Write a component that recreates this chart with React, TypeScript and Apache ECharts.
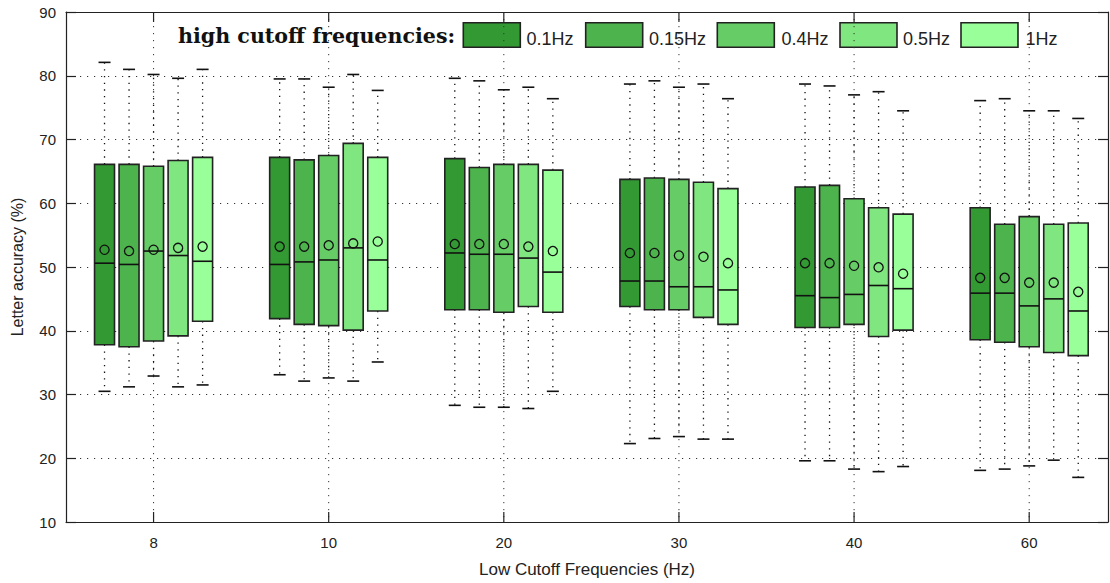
import React, { useEffect, useRef } from "react";
import * as echarts from "echarts";

// Low cutoff frequencies (x categories)
const lowCutoffs = ["8", "10", "20", "30", "40", "60"];
// High cutoff frequencies (series)
const highCutoffs = ["0.1Hz", "0.15Hz", "0.4Hz", "0.5Hz", "1Hz"];
const seriesColors = ["#339933", "#4db34d", "#66cc66", "#80e680", "#99ff99"];

// Per series: rows are low cutoffs, columns: [whiskerLow, q1, median, q3, whiskerHigh, mean]
const hc01 = [
  [30.5, 37.8, 50.6, 66.1, 82.1, 52.7],
  [33.1, 41.9, 50.4, 67.2, 79.5, 53.2],
  [28.3, 43.3, 52.2, 67.0, 79.6, 53.6],
  [22.3, 43.8, 47.8, 63.75, 78.7, 52.2],
  [19.6, 40.5, 45.5, 62.55, 78.7, 50.6],
  [18.1, 38.6, 45.9, 59.3, 76.1, 48.3],
];
const hc015 = [
  [31.2, 37.5, 50.4, 66.1, 81.0, 52.5],
  [32.1, 41.0, 50.8, 66.8, 79.5, 53.2],
  [28.0, 43.3, 52.0, 65.6, 79.2, 53.6],
  [23.1, 43.3, 47.8, 63.95, 79.2, 52.2],
  [19.6, 40.5, 45.2, 62.8, 78.4, 50.6],
  [18.3, 38.2, 45.9, 56.7, 76.4, 48.3],
];
const hc04 = [
  [32.9, 38.4, 52.5, 65.8, 80.2, 52.7],
  [32.6, 40.8, 51.1, 67.5, 78.2, 53.4],
  [28.0, 42.9, 52.0, 66.1, 77.8, 53.6],
  [23.4, 43.3, 46.9, 63.75, 78.2, 51.8],
  [18.3, 41.0, 45.7, 60.7, 77.0, 50.2],
  [18.8, 37.5, 43.9, 57.9, 74.5, 47.55],
];
const hc05 = [
  [31.2, 39.2, 51.8, 66.7, 79.6, 53.0],
  [32.1, 40.1, 53.0, 69.4, 80.2, 53.7],
  [27.8, 43.8, 51.4, 66.1, 78.2, 53.2],
  [23.0, 42.1, 46.9, 63.3, 78.7, 51.6],
  [17.9, 39.1, 47.1, 59.3, 77.5, 49.95],
  [19.7, 36.6, 45.0, 56.7, 74.5, 47.55],
];
const hc1 = [
  [31.5, 41.5, 50.9, 67.2, 81.0, 53.2],
  [35.1, 43.1, 51.1, 67.2, 77.7, 54.0],
  [30.5, 42.9, 49.2, 65.2, 76.4, 52.5],
  [23.0, 41.0, 46.4, 62.3, 76.4, 50.6],
  [18.7, 40.1, 46.6, 58.3, 74.5, 48.95],
  [17.0, 36.1, 43.1, 56.9, 73.3, 46.1],
];
const allSeries = [hc01, hc015, hc04, hc05, hc1];

const BOX_STEP = 0.14; // spacing between boxes in category units
const BOX_W = 0.114; // box width in category units
const SANS = "'Liberation Sans', Arial, sans-serif";

function makeRenderItem(j: number) {
  return (_params: any, api: any) => {
    const xv = api.value(0) + (j - 2) * BOX_STEP;
    const pLow = api.coord([xv, api.value(1)]);
    const pQ1 = api.coord([xv, api.value(2)]);
    const pMed = api.coord([xv, api.value(3)]);
    const pQ3 = api.coord([xv, api.value(4)]);
    const pHigh = api.coord([xv, api.value(5)]);
    const pMean = api.coord([xv, api.value(6)]);
    const cx = pLow[0];
    const w = api.size([BOX_W, 0])[0];
    const capHalf = 6;
    const dotted = { stroke: "#111", lineWidth: 1.3, lineDash: [1.3, 5.4], fill: null };
    const solid = { stroke: "#111", lineWidth: 1.6, fill: null };
    return {
      type: "group",
      children: [
        { type: "line", shape: { x1: cx, y1: pQ3[1], x2: cx, y2: pHigh[1] }, style: dotted },
        { type: "line", shape: { x1: cx, y1: pQ1[1], x2: cx, y2: pLow[1] }, style: dotted },
        { type: "line", shape: { x1: cx - capHalf, y1: pHigh[1], x2: cx + capHalf, y2: pHigh[1] }, style: solid },
        { type: "line", shape: { x1: cx - capHalf, y1: pLow[1], x2: cx + capHalf, y2: pLow[1] }, style: solid },
        {
          type: "rect",
          shape: { x: cx - w / 2, y: pQ3[1], width: w, height: pQ1[1] - pQ3[1] },
          style: { fill: seriesColors[j], stroke: "#222", lineWidth: 1.6 },
        },
        { type: "line", shape: { x1: cx - w / 2, y1: pMed[1], x2: cx + w / 2, y2: pMed[1] }, style: solid },
        { type: "circle", shape: { cx: cx, cy: pMean[1], r: 4.6 }, style: { fill: null, stroke: "#111", lineWidth: 1.3 } },
      ],
    };
  };
}

export default function App() {
  const ref = useRef<HTMLDivElement>(null);
  useEffect(() => {
    if (!ref.current) return;
    const chart = echarts.init(ref.current, null, { renderer: "svg" });

    const boxSeries = allSeries.map((rows, j) => ({
      type: "custom",
      name: highCutoffs[j],
      xAxisIndex: 0,
      yAxisIndex: 0,
      renderItem: makeRenderItem(j),
      encode: { x: 0, y: [1, 2, 3, 4, 5, 6] },
      data: rows.map((r, i) => [i, ...r]),
      clip: false,
      z: 3,
    }));

    const gridSeries = {
      type: "custom",
      name: "vgrid",
      silent: true,
      renderItem: (_p: any, api: any) => {
        const a = api.coord([api.value(0), 90]);
        const b = api.coord([api.value(0), 10]);
        const t = 10;
        return {
          type: "group",
          children: [
            {
              type: "line",
              shape: { x1: a[0], y1: a[1], x2: b[0], y2: b[1] },
              style: { stroke: "#333", lineWidth: 1, lineDash: [1.2, 5.8] },
            },
            { type: "line", shape: { x1: a[0], y1: a[1], x2: a[0], y2: a[1] + t }, style: { stroke: "#222", lineWidth: 1.2 } },
            { type: "line", shape: { x1: b[0], y1: b[1], x2: b[0], y2: b[1] - t }, style: { stroke: "#222", lineWidth: 1.2 } },
          ],
        };
      },
      encode: { x: 0, y: 1 },
      data: lowCutoffs.map((_c, i) => [i, 50]),
      z: 1,
    };

    const legendBoxX = [463.3, 585.7, 717.3, 840, 961];
    const legendTextX = [526.5, 649, 781.5, 903, 1025.5];
    const legendGraphics: any[] = [
      {
        type: "text",
        x: 178,
        y: 36,
        style: {
          text: "high cutoff frequencies:",
          font: "bold 20.6px 'DejaVu Serif', serif",
          fill: "#111",
          verticalAlign: "middle",
          align: "left",
        },
      },
    ];
    highCutoffs.forEach((name, j) => {
      legendGraphics.push({
        type: "rect",
        shape: { x: legendBoxX[j], y: 22.7, width: 57, height: 24.6 },
        style: { fill: seriesColors[j], stroke: "#222", lineWidth: 1.6 },
      });
      legendGraphics.push({
        type: "text",
        x: legendTextX[j],
        y: 38.5,
        style: {
          text: name,
          font: `18px ${SANS}`,
          fill: "#222",
          verticalAlign: "middle",
          align: "left",
        },
      });
    });

    const axisLineStyle = { color: "#222", width: 1.2 };
    const tickVals = lowCutoffs.map((_c, i) => i);

    chart.setOption({
      animation: false,
      backgroundColor: "#ffffff",
      grid: { left: 66, right: 2, top: 12, bottom: 59, containLabel: false },
      xAxis: [
        {
          type: "value",
          min: -0.5,
          max: 5.45,
          position: "bottom",
          axisLine: { show: true, onZero: false, lineStyle: axisLineStyle },
          axisTick: { show: false },
          axisLabel: {
            show: true,
            customValues: tickVals,
            formatter: (v: number) => lowCutoffs[Math.round(v)] ?? "",
            fontSize: 15,
            fontFamily: SANS,
            color: "#222",
            margin: 13,
          },
          splitLine: { show: false },
          name: "Low Cutoff Frequencies (Hz)",
          nameLocation: "middle",
          nameGap: 39,
          nameTextStyle: { fontSize: 17, fontFamily: SANS, color: "#222" },
        },
        {
          type: "value",
          min: -0.5,
          max: 5.45,
          position: "top",
          axisLine: { show: true, onZero: false, lineStyle: axisLineStyle },
          axisTick: { show: false },
          axisLabel: { show: false },
          splitLine: { show: false },
        },
      ],
      yAxis: [
        {
          type: "value",
          min: 10,
          max: 90,
          interval: 10,
          position: "left",
          axisLine: { show: true, onZero: false, lineStyle: axisLineStyle },
          axisTick: { show: true, inside: true, length: 10, lineStyle: axisLineStyle },
          axisLabel: { fontSize: 15, fontFamily: SANS, color: "#222", margin: 10 },
          splitLine: { show: true, lineStyle: { color: "#333", width: 1, type: [1.2, 5.8] } },
          name: "Letter accuracy (%)",
          nameLocation: "middle",
          nameGap: 41,
          nameRotate: 90,
          nameTextStyle: { fontSize: 16, fontFamily: SANS, color: "#222" },
        },
        {
          type: "value",
          min: 10,
          max: 90,
          interval: 10,
          position: "right",
          axisLine: { show: true, onZero: false, lineStyle: axisLineStyle },
          axisTick: { show: true, inside: true, length: 10, lineStyle: axisLineStyle },
          axisLabel: { show: false },
          splitLine: { show: false },
        },
      ],
      series: [gridSeries, ...boxSeries],
      graphic: legendGraphics,
    } as any);

    return () => {
      chart.dispose();
    };
  }, []);

  return (
    <div
      ref={ref}
      style={{ position: "fixed", left: 0, top: 0, width: 1110, height: 583, background: "#fff" }}
    />
  );
}
